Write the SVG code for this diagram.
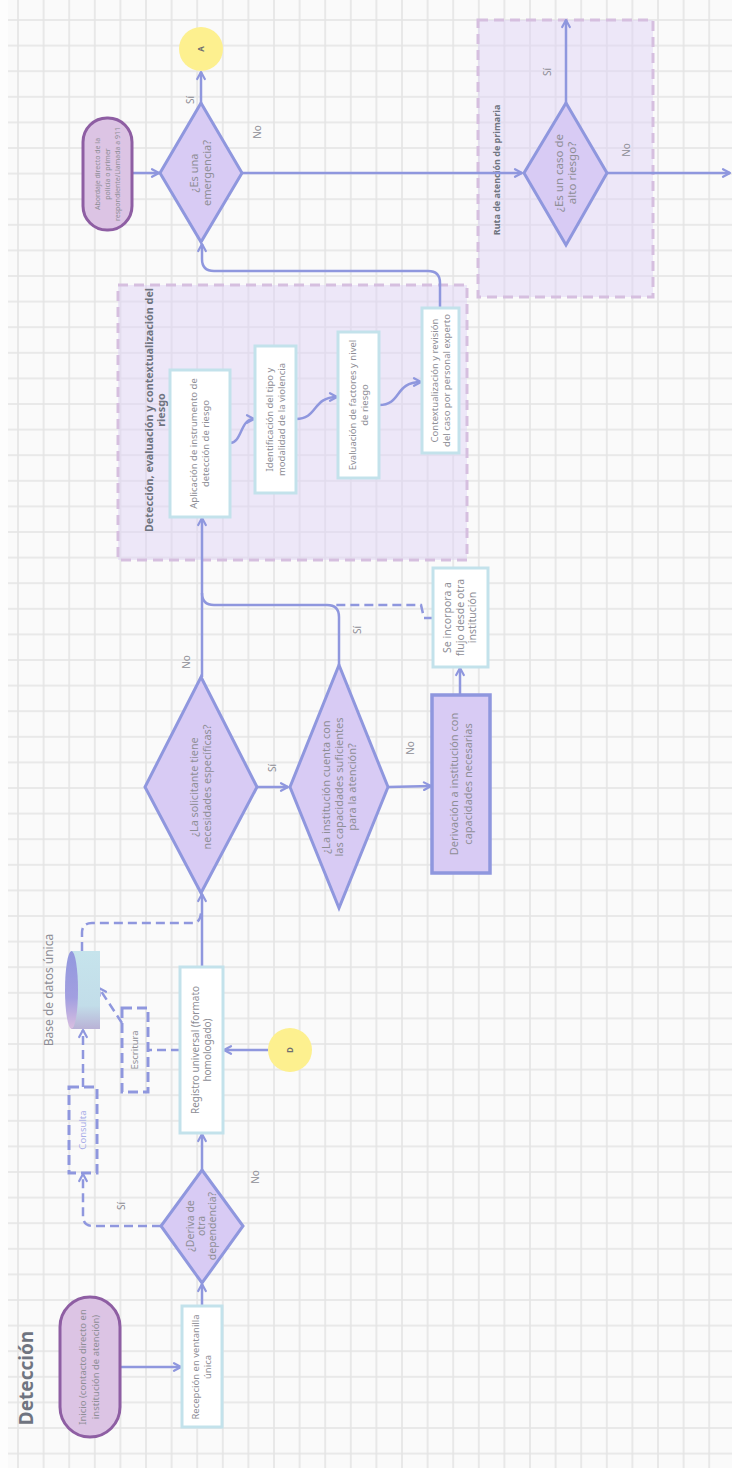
<svg xmlns="http://www.w3.org/2000/svg" width="732" height="1468" viewBox="0 0 732 1468">
<defs>
<pattern id="grid" x="5.2" y="7.2" width="25.6" height="25.6" patternUnits="userSpaceOnUse">
<path d="M12.8,0 V25.6 M0,12.8 H25.6" stroke="#e4e4e4" stroke-width="1.6" fill="none"/>
</pattern>
<marker id="arr" viewBox="0 0 10 10" refX="9" refY="5" markerWidth="10" markerHeight="10" markerUnits="userSpaceOnUse" orient="auto">
<path d="M2,1.2 L9,5 L2,8.8" fill="none" stroke="#8f97de" stroke-width="2.2" stroke-linecap="round" stroke-linejoin="round"/>
</marker>
<linearGradient id="dbBody" x1="0" y1="0" x2="0" y2="1">
<stop offset="0" stop-color="#c6e4ec"/>
<stop offset="0.7" stop-color="#c2dde9"/>
<stop offset="1" stop-color="#b9b2d6"/>
</linearGradient>
<linearGradient id="dbCap" x1="0" y1="0" x2="0" y2="1">
<stop offset="0" stop-color="#9298de"/>
<stop offset="0.6" stop-color="#a29fe0"/>
<stop offset="1" stop-color="#d9bfe0"/>
</linearGradient>
<style>
.t{font-family:"Noto Sans","Liberation Sans",sans-serif;font-size:9.5px;fill:#8e8e96;text-anchor:middle}
.lbl{font-family:"Noto Sans","Liberation Sans",sans-serif;font-size:10px;fill:#8e8e96;text-anchor:middle}
.gt{font-family:"Noto Sans","Liberation Sans",sans-serif;font-weight:bold;fill:#6f7480;text-anchor:middle}
.box{fill:#ffffff;stroke:#c3e2eb;stroke-width:3}
.dia{fill:#d8cbf4;stroke:#8f97de;stroke-width:3;stroke-linejoin:miter}
.pill{fill:#dcc4e4;stroke:#8e5ea3;stroke-width:3}
.grp{fill:#ddd1f6;fill-opacity:0.45;stroke:#d6bfdf;stroke-width:3;stroke-dasharray:10 6}
.dbox{fill:none;stroke:#8f97de;stroke-width:3;stroke-dasharray:10 5}
.ln{fill:none;stroke:#8f97de;stroke-width:2.5}
.dash{fill:none;stroke:#8f97de;stroke-width:2.5;stroke-dasharray:9 5}
.circ{fill:#fdf08f}
</style>
</defs>

<rect x="0" y="0" width="732" height="1468" fill="#fdfdfd"/>
<rect x="8" y="0" width="724" height="1468" fill="#fafafa"/>
<rect x="8" y="0" width="724" height="1468" fill="url(#grid)"/>

<text class="gt" font-size="19" transform="translate(26,1378) rotate(-90)" y="7">Detección</text>

<g id="grp-deteccion">
<rect class="grp" x="118" y="285" width="349" height="275"/>
<text class="gt" font-size="10.8" transform="translate(155,410) rotate(-90)"><tspan x="0" y="-2">Detección, evaluación y contextualización del</tspan><tspan x="0" y="10">riesgo</tspan></text>
</g>
<g id="grp-ruta">
<rect class="grp" x="478" y="20" width="175" height="277"/>
<text class="gt" font-size="9" transform="translate(497,170) rotate(-90)" y="3">Ruta de atención de primaria</text>
</g>

<g id="connectors">
<path class="ln" d="M120,1367 H181" marker-end="url(#arr)"/>
<path class="ln" d="M202,1306 V1284" marker-end="url(#arr)"/>
<path class="ln" d="M202,1170 V1134" marker-end="url(#arr)"/>
<path class="dash" d="M161,1226 H93 Q83,1226 83,1216 V1174" marker-end="url(#arr)"/>
<path class="dash" d="M83,1087 V1030" marker-end="url(#arr)"/>
<path class="dash" d="M180,1050 H148"/>
<path class="dash" d="M122,1023 L99,988" marker-end="url(#arr)"/>
<path class="ln" d="M268,1050 H224" marker-end="url(#arr)"/>
<path class="ln" d="M202,967 V894" marker-end="url(#arr)"/>
<path class="dash" d="M82,951 V933 Q82,923 92,923 H193 Q200,923 201,913"/>
<path class="ln" d="M257,787 H288" marker-end="url(#arr)"/>
<path class="ln" d="M388,787 L431,786" marker-end="url(#arr)"/>
<path class="ln" d="M460,695 V668" marker-end="url(#arr)"/>
<path class="ln" d="M202,677 V518" marker-end="url(#arr)"/>
<path class="ln" d="M339,665 V617 Q339,605 327,605 H214 Q202,605 202,593"/>
<path class="dash" d="M433,618 H424 L421,605 H334"/>
<path class="ln" d="M230,443 C242,443 240,419 254,419" marker-end="url(#arr)"/>
<path class="ln" d="M296,419 C318,419 312,397 337,397" marker-end="url(#arr)"/>
<path class="ln" d="M379,405 C402,405 394,382 421,382" marker-end="url(#arr)"/>
<path class="ln" d="M440,308 V283 Q440,271 428,271 H214 Q202,271 202,259 V244" marker-end="url(#arr)"/>
<path class="ln" d="M132,173 H159" marker-end="url(#arr)"/>
<path class="ln" d="M201,103 V72" marker-end="url(#arr)"/>
<path class="ln" d="M242,173 H522" marker-end="url(#arr)"/>
<path class="ln" d="M566,103 V20" marker-end="url(#arr)"/>
<path class="ln" d="M607,173 H730" marker-end="url(#arr)"/>
<text class="lbl" transform="translate(255,1177) rotate(-90)" y="3.5">No</text>
<text class="lbl" transform="translate(121,1206) rotate(-90)" y="3.5">Sí</text>
<text class="lbl" transform="translate(186,662) rotate(-90)" y="3.5">No</text>
<text class="lbl" transform="translate(272,768) rotate(-90)" y="3.5">Sí</text>
<text class="lbl" transform="translate(410,748) rotate(-90)" y="3.5">No</text>
<text class="lbl" transform="translate(357,630) rotate(-90)" y="3.5">Sí</text>
<text class="lbl" transform="translate(190,100) rotate(-90)" y="3.5">Sí</text>
<text class="lbl" transform="translate(257,132) rotate(-90)" y="3.5">No</text>
<text class="lbl" transform="translate(547,72) rotate(-90)" y="3.5">Sí</text>
<text class="lbl" transform="translate(626,150) rotate(-90)" y="3.5">No</text>
</g>

<g id="inicio">
<rect class="pill" x="60" y="1297" width="60" height="140" rx="30"/>
<text class="t" transform="translate(88.5,1367) rotate(-90)"><tspan x="0" y="-3">Inicio (contacto directo en</tspan><tspan x="0" y="10">institución de atención)</tspan></text>
</g>
<g id="recepcion">
<rect class="box" x="182" y="1306" width="40" height="121"/>
<text class="t" transform="translate(202,1367) rotate(-90)"><tspan x="0" y="-2.7">Recepción en ventanilla</tspan><tspan x="0" y="9.3">única</tspan></text>
</g>
<g id="deriva">
<polygon class="dia" points="202,1170 243,1226 202,1283 161,1226"/>
<text class="t" style="font-size:10.5px" transform="translate(201,1226) rotate(-90)"><tspan x="0" y="-7.5">¿Deriva de</tspan><tspan x="0" y="3.6">otra</tspan><tspan x="0" y="14.7">dependencia?</tspan></text>
</g>
<g id="consulta">
<rect class="dbox" x="69" y="1087" width="28" height="86"/>
<text class="t" style="fill:#a8aee8" transform="translate(83,1130) rotate(-90)" y="3.3">Consulta</text>
</g>
<g id="escritura">
<rect class="dbox" x="122" y="1008" width="26" height="84"/>
<text class="t" transform="translate(135,1050) rotate(-90)" y="3.3">Escritura</text>
</g>
<g id="basedatos">
<path d="M71,951 H100 V1029 H71 Z" fill="url(#dbBody)"/>
<ellipse cx="71.5" cy="990" rx="6.5" ry="39" fill="url(#dbCap)"/>
<text class="t" style="font-size:12px" transform="translate(49,990) rotate(-90)" y="4">Base de datos única</text>
</g>
<g id="registro">
<rect class="box" x="180" y="967" width="43" height="166"/>
<text class="t" style="font-size:10px" transform="translate(201.5,1050) rotate(-90)"><tspan x="0" y="-2.6">Registro universal (formato</tspan><tspan x="0" y="9.8">homologado)</tspan></text>
</g>
<g id="conectorD">
<circle class="circ" cx="290" cy="1050" r="22"/>
<text class="t" style="font-size:8px;fill:#6f6f6f;font-weight:bold" transform="translate(290,1050) rotate(-90)" y="3">D</text>
</g>
<g id="necesidades">
<polygon class="dia" points="201,677 257,787 201,893 145,787"/>
<text class="t" style="font-size:10.8px" transform="translate(201,787) rotate(-90)"><tspan x="0" y="-3">¿La solicitante tiene</tspan><tspan x="0" y="10">necesidades específicas?</tspan></text>
</g>
<g id="capacidades">
<polygon class="dia" points="339,665 388,787 339,908 290,787"/>
<text class="t" style="font-size:11px" transform="translate(339,787) rotate(-90)"><tspan x="0" y="-9.5">¿La institución cuenta con</tspan><tspan x="0" y="3.8">las capacidades suficientes</tspan><tspan x="0" y="17">para la atención?</tspan></text>
</g>
<g id="derivacion">
<rect x="432" y="695" width="58" height="178" fill="#d8cbf4" stroke="#8f97de" stroke-width="3.5"/>
<text class="t" style="font-size:11px" transform="translate(461,784) rotate(-90)"><tspan x="0" y="-3.2">Derivación a institución con</tspan><tspan x="0" y="10.6">capacidades necesarias</tspan></text>
</g>
<g id="incorpora">
<rect class="box" x="433" y="568" width="55" height="99"/>
<text class="t" style="font-size:10.5px" transform="translate(460,617.5) rotate(-90)"><tspan x="0" y="-9">Se incorpora a</tspan><tspan x="0" y="3.7">flujo desde otra</tspan><tspan x="0" y="16.4">institución</tspan></text>
</g>
<g id="aplicacion">
<rect class="box" x="170" y="370" width="60" height="147"/>
<text class="t" transform="translate(200,443.5) rotate(-90)"><tspan x="0" y="-2.7">Aplicación de instrumento de</tspan><tspan x="0" y="9.3">detección de riesgo</tspan></text>
</g>
<g id="identificacion">
<rect class="box" x="255" y="346" width="41" height="147"/>
<text class="t" transform="translate(275.5,419.5) rotate(-90)"><tspan x="0" y="-2.7">Identificación del tipo y</tspan><tspan x="0" y="9.3">modalidad de la violencia</tspan></text>
</g>
<g id="evaluacion">
<rect class="box" x="338" y="332" width="41" height="146"/>
<text class="t" transform="translate(358.5,405) rotate(-90)"><tspan x="0" y="-2.7">Evaluación de factores y nivel</tspan><tspan x="0" y="9.3">de riesgo</tspan></text>
</g>
<g id="contextualizacion">
<rect class="box" x="422" y="308" width="37" height="145"/>
<text class="t" transform="translate(440.5,380.5) rotate(-90)"><tspan x="0" y="-2.7">Contextualización y revisión</tspan><tspan x="0" y="9.3">del caso por personal experto</tspan></text>
</g>
<g id="abordaje">
<rect class="pill" x="83" y="118" width="49" height="112" rx="24"/>
<text class="t" style="font-size:7px" transform="translate(107.5,174) rotate(-90)"><tspan x="0" y="-7.5">Abordaje directo de la</tspan><tspan x="0" y="2.5">policía o primer</tspan><tspan x="0" y="12.5">respondiente/Llamada a 911</tspan></text>
</g>
<g id="emergencia">
<polygon class="dia" points="201,103 242,173 201,242 160,173"/>
<text class="t" style="font-size:11px" transform="translate(201,173) rotate(-90)"><tspan x="0" y="-2.8">¿Es una</tspan><tspan x="0" y="10">emergencia?</tspan></text>
</g>
<g id="conectorA">
<circle class="circ" cx="201" cy="49" r="22"/>
<text class="t" style="font-size:8px;fill:#6f6f6f;font-weight:bold" transform="translate(201,49) rotate(-90)" y="3">A</text>
</g>
<g id="altoriesgo">
<polygon class="dia" points="566,103 607,173 566,245 524,173"/>
<text class="t" style="font-size:11.5px" transform="translate(566,173) rotate(-90)"><tspan x="0" y="-3">¿Es un caso de</tspan><tspan x="0" y="10.2">alto riesgo?</tspan></text>
</g>
</svg>
